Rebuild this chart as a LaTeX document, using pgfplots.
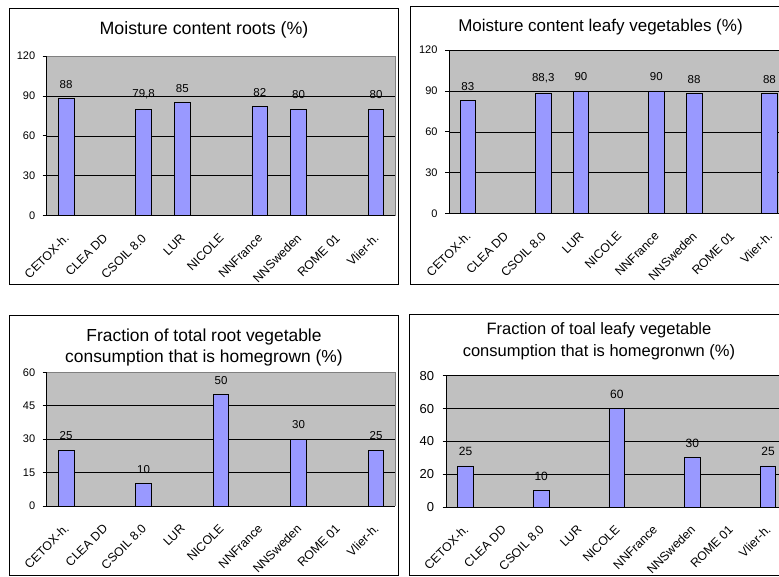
\documentclass[border=0pt]{standalone}
\usepackage{pgfplots}
\pgfplotsset{compat=1.18}
\usepackage{fontspec}
\setmainfont{Liberation Sans}

\definecolor{plotgray}{HTML}{C0C0C0}
\definecolor{barblue}{HTML}{9999FF}

\newcommand{\tickfont}{\fontsize{11bp}{13bp}\selectfont}
\newcommand{\catfont}{\fontsize{12.3bp}{14bp}\selectfont}
\newcommand{\valfont}{\fontsize{11.5bp}{13bp}\selectfont}
\newcommand{\titlefont}[1]{\fontsize{#1}{21.6bp}\selectfont}

\pgfplotsset{
  panel/.style={
    anchor=south west,
    scale only axis,
    axis lines*=left,
    axis line style={black, line width=0.8bp, -},
    axis background/.style={fill=plotgray},
    xmin=-0.5, xmax=8.5, ymin=0,
    xtick={0,...,8},
    xticklabels={CETOX-h.,CLEA DD,CSOIL 8.0,LUR,NICOLE,NNFrance,NNSweden,ROME 01,Vlier-h.},
    x tick label style={xshift=3bp, yshift=-1bp, rotate=45, anchor=east, font=\catfont},
    xticklabel shift=13bp,
    major x tick style={draw=none},
    extra x ticks={-0.5,0.5,...,8.5},
    extra x tick labels={},
    extra x tick style={major x tick style={black, line width=0.8bp}},
    y tick label style={font=\tickfont},
    yticklabel shift=4bp,
    tick align=outside,
    major tick length=4bp,
    ytick style={black, line width=0.8bp},
    ymajorgrids,
    major grid style={black, line width=0.7bp},
    /pgf/number format/assume math mode=true,
    /pgf/number format/use comma,
    ybar, bar width=15.7bp,
    nodes near coords,
    every node near coord/.append style={font=\valfont, black, yshift=6.5bp},
    clip=false,
  },
  bars/.style={fill=barblue, draw=black, line width=0.8bp},
}

\begin{document}
\begin{tikzpicture}
\useasboundingbox (0,0) rectangle (779bp,-577bp);

% panel frames
\draw[line width=0.8bp] (9bp,-8bp) rectangle (398bp,-284bp);
\draw[line width=0.8bp] (410.7bp,-6bp) rectangle (795bp,-284bp);
\draw[line width=0.8bp] (9bp,-315.7bp) rectangle (398bp,-575.7bp);
\draw[line width=0.8bp] (409bp,-314.3bp) rectangle (795bp,-575.7bp);

% titles
\node[font=\titlefont{17.8bp}] at (204bp,-30bp) {Moisture content roots (\%)};
\node[font=\titlefont{17bp}] at (600.5bp,-26.7bp) {Moisture content leafy vegetables (\%)};
\node[font=\titlefont{17.4bp}, align=center] at (204bp,-347.5bp) {Fraction of total root vegetable\\consumption that is homegrown (\%)};
\node[font=\titlefont{16.5bp}, align=center] at (599bp,-341.5bp) {Fraction of toal leafy vegetable\\consumption that is homegronwn (\%)};

% top left
\begin{axis}[panel, at={(46.7bp,-215.7bp)}, width=348.7bp, height=159.7bp,
  ymax=120, ytick={0,30,...,120}]
  \addplot[bars] coordinates {(0,88) (2,79.8) (3,85) (5,82) (6,80) (8,80)};
  \draw[gray, line width=0.6bp] (rel axis cs:0,1) -- (rel axis cs:1,1) -- (rel axis cs:1,0);
\end{axis}

% top right
\begin{axis}[panel, at={(449bp,-213.7bp)}, width=339.3bp, height=163.7bp,
  ymax=120, ytick={0,30,...,120}]
  \addplot[bars] coordinates {(0,83) (2,88.3) (3,90) (5,90) (6,88) (8,88)};
\end{axis}

% bottom left
\begin{axis}[panel, at={(46.7bp,-506bp)}, width=348.7bp, height=133.7bp,
  ymax=60, ytick={0,15,...,60}]
  \addplot[bars] coordinates {(0,25) (2,10) (4,50) (6,30) (8,25)};
  \draw[gray, line width=0.6bp] (rel axis cs:0,1) -- (rel axis cs:1,1) -- (rel axis cs:1,0);
\end{axis}

% bottom right
\begin{axis}[panel, at={(446.7bp,-507bp)}, width=340.2bp, height=131.3bp,
  ymax=80, ytick={0,20,...,80},
  y tick label style={font=\fontsize{13bp}{15bp}\selectfont},
  yticklabel shift=5bp,
  every node near coord/.append style={font=\fontsize{12bp}{14bp}\selectfont}]
  \addplot[bars] coordinates {(0,25) (2,10) (4,60) (6,30) (8,25)};
\end{axis}
\end{tikzpicture}
\end{document}
